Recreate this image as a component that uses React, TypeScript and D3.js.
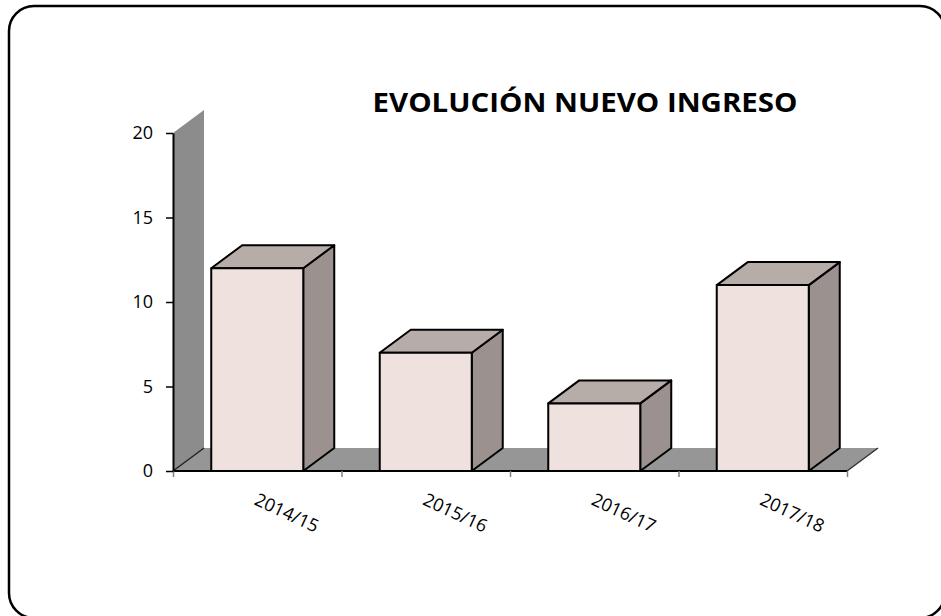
import * as d3 from 'd3';
import React, { useRef, useEffect } from 'react';

// chart values
const categories = ['2014/15', '2015/16', '2016/17', '2017/18'];
const values = [12, 7, 4, 11];
const yTicks = [0, 5, 10, 15, 20];
const title = 'EVOLUCIÓN NUEVO INGRESO';

const App = () => {
  const ref = useRef(null);

  const width = 941, height = 616;
  const margin = {top: 133, right: 94, bottom: 145, left: 173};
  const depth = {dx: 31, dy: -23}; // fake 3d offset
  const font = '"Open Sans", "DejaVu Sans", sans-serif';

  useEffect(() => {
    const svg = d3.select(ref.current);
    svg.selectAll('*').remove();

    // outer frame
    svg.append('rect')
      .attr('x', 9).attr('y', 6)
      .attr('width', 936).attr('height', 612)
      .attr('rx', 25).attr('ry', 25)
      .attr('fill', '#fff')
      .attr('stroke', '#000')
      .attr('stroke-width', 2.5);

    const x = d3.scaleBand()
      .domain(categories)
      .range([margin.left, width - margin.right])
      .paddingInner(0.454)
      .paddingOuter(0.227);

    const y = d3.scaleLinear()
      .domain([0, 20])
      .range([height - margin.bottom, margin.top]);

    const y0 = y(0);
    const xl = margin.left, xr = width - margin.right;
    const pts = (a) => a.map((p) => p.join(',')).join(' ');

    // side wall
    svg.append('polygon')
      .attr('points', pts([[xl, y(20)], [xl + depth.dx, y(20) + depth.dy], [xl + depth.dx, y0 + depth.dy], [xl, y0]]))
      .attr('fill', '#8c8c8c');

    // floor
    svg.append('polygon')
      .attr('points', pts([[xl, y0], [xr, y0], [xr + depth.dx, y0 + depth.dy], [xl + depth.dx, y0 + depth.dy]]))
      .attr('fill', '#969696');
    svg.append('line')
      .attr('x1', xl).attr('y1', y0).attr('x2', xl + depth.dx).attr('y2', y0 + depth.dy)
      .attr('stroke', '#222').attr('stroke-width', 1.5);
    svg.append('line')
      .attr('x1', xr).attr('y1', y0).attr('x2', xr + depth.dx).attr('y2', y0 + depth.dy)
      .attr('stroke', '#333').attr('stroke-width', 1.5);

    // bars
    const bars = svg.append('g').selectAll('g')
      .data(categories.map((c, i) => ({c, v: values[i]})))
      .join('g')
      .attr('stroke', '#000')
      .attr('stroke-width', 2)
      .attr('stroke-linejoin', 'round');

    bars.append('polygon') // side
      .attr('points', (d) => {
        const x1 = x(d.c) + x.bandwidth();
        return pts([[x1, y(d.v)], [x1 + depth.dx, y(d.v) + depth.dy], [x1 + depth.dx, y0 + depth.dy], [x1, y0]]);
      })
      .attr('fill', '#9b918e');

    bars.append('polygon') // top
      .attr('points', (d) => {
        const x0 = x(d.c), x1 = x0 + x.bandwidth(), yt = y(d.v);
        return pts([[x0, yt], [x0 + depth.dx, yt + depth.dy], [x1 + depth.dx, yt + depth.dy], [x1, yt]]);
      })
      .attr('fill', '#b6aca8');

    bars.append('rect') // front
      .attr('x', (d) => x(d.c))
      .attr('y', (d) => y(d.v))
      .attr('width', x.bandwidth())
      .attr('height', (d) => y0 - y(d.v))
      .attr('fill', '#efe1de');

    // front floor edge
    svg.append('line')
      .attr('x1', xl).attr('y1', y0).attr('x2', xr).attr('y2', y0)
      .attr('stroke', '#000').attr('stroke-width', 2);

    // x ticks at the category boundaries
    const xb = d3.scaleLinear().domain([0, categories.length]).range([xl, xr]);
    const gx = svg.append('g')
      .attr('transform', 'translate(0,' + y0 + ')')
      .call(d3.axisBottom(xb).tickValues(d3.range(categories.length + 1)).tickSize(6).tickFormat(() => ''));
    gx.select('.domain').remove();
    gx.selectAll('line').attr('stroke', '#808080').attr('stroke-width', 1.5);

    // category labels
    svg.append('g').selectAll('text')
      .data(categories)
      .join('text')
      .attr('transform', (d) => 'translate(' + (x(d) + x.bandwidth() / 2 + 2) + ',' + (y0 + 20) + ') rotate(25)')
      .attr('dy', '0.8em')
      .attr('font-family', font)
      .attr('font-size', 18)
      .attr('fill', '#000')
      .text((d) => d);

    // y axis
    const gy = svg.append('g')
      .attr('transform', 'translate(' + xl + ',0)')
      .call(d3.axisLeft(y).tickValues(yTicks).tickSize(7).tickSizeOuter(0).tickPadding(13));
    gy.select('.domain').attr('stroke', '#000').attr('stroke-width', 2);
    gy.selectAll('line').attr('stroke', '#000').attr('stroke-width', 1.5);
    gy.selectAll('text')
      .attr('font-family', font)
      .attr('font-size', 18)
      .attr('fill', '#000');

    // title
    svg.append('text')
      .attr('x', 585)
      .attr('y', 112)
      .attr('text-anchor', 'middle')
      .attr('font-family', font)
      .attr('font-weight', 'bold')
      .attr('font-size', 27)
      .attr('textLength', 425)
      .attr('lengthAdjust', 'spacingAndGlyphs')
      .attr('fill', '#000')
      .text(title);
  }, []);

  return (
    <svg ref={ref} width={width} height={height}
      style={{position: 'absolute', left: 0, top: 0, display: 'block'}}></svg>
  );
};

export default App;
